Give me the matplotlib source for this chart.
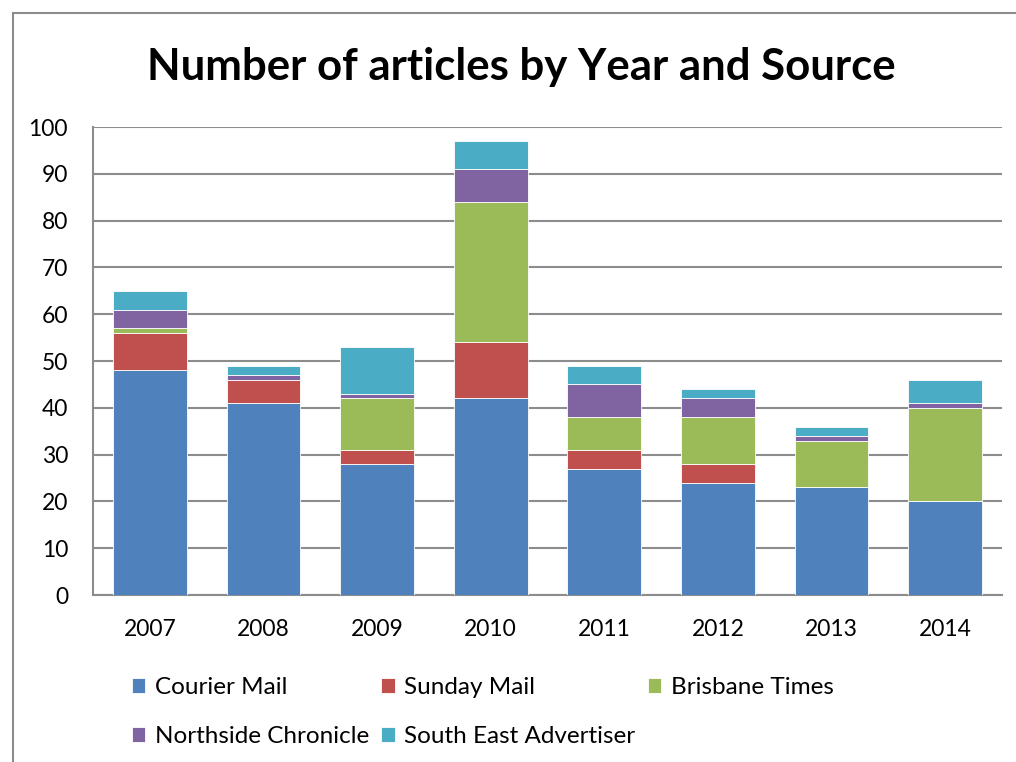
import numpy as np
import matplotlib.pyplot as plt
from matplotlib.lines import Line2D

years = ["2007", "2008", "2009", "2010", "2011", "2012", "2013", "2014"]
courier_mail = [48, 41, 28, 42, 27, 24, 23, 20]
sunday_mail = [8, 5, 3, 12, 4, 4, 0, 0]
brisbane_times = [1, 0, 11, 30, 7, 10, 10, 20]
northside_chronicle = [4, 1, 1, 7, 7, 4, 1, 1]
south_east_advertiser = [4, 2, 10, 6, 4, 2, 2, 5]

series = [
    ("Courier Mail", courier_mail, "#4f81bd"),
    ("Sunday Mail", sunday_mail, "#c0504d"),
    ("Brisbane Times", brisbane_times, "#9bbb59"),
    ("Northside Chronicle", northside_chronicle, "#8064a2"),
    ("South East Advertiser", south_east_advertiser, "#4bacc6"),
]

plt.rcParams["font.family"] = ["Lato", "DejaVu Sans"]

fig = plt.figure(figsize=(10.16, 7.62), dpi=100)
W, H = 1016, 762
ax = fig.add_axes([93 / W, 1 - 595 / H, (1002 - 93) / W, (595 - 127) / H])

x = np.arange(len(years))
bottom = np.zeros(len(years))
for name, vals, col in series:
    ax.bar(x, vals, width=0.65, bottom=bottom, color=col, label=name,
           edgecolor="white", linewidth=0.6, zorder=3)
    bottom += np.array(vals)

ax.set_xlim(-0.5, len(years) - 0.5)
ax.set_ylim(0, 100)
ax.set_yticks(range(0, 101, 10))
ax.set_xticks(x)
ax.set_xticklabels(years)
ax.tick_params(axis="both", labelsize=16.5, length=0, colors="black")
ax.tick_params(axis="x", pad=17)
ax.tick_params(axis="y", pad=18)
ax.grid(axis="y", color="#8c8c8c", linewidth=1.5, zorder=0)
for s in ["top", "right"]:
    ax.spines[s].set_visible(False)
ax.spines["left"].set_color("#8c8c8c")
ax.spines["bottom"].set_color("#8c8c8c")
ax.spines["left"].set_linewidth(1.5)
ax.spines["bottom"].set_linewidth(1.5)

fig.text(0.513, 1 - 67 / H, "Number of articles by Year and Source",
         ha="center", va="center", fontsize=31.5, fontweight="bold")

# legend reads row by row in the reference, matplotlib fills columns first
handles, labels = ax.get_legend_handles_labels()
order = [0, 3, 1, 4, 2]
fig.legend([handles[i] for i in order], [labels[i] for i in order],
           ncol=3, loc="upper left",
           bbox_to_anchor=(110 / W, 1 - 655 / H), frameon=False,
           fontsize=17.5, handlelength=0.55, handleheight=0.55,
           handletextpad=0.4, columnspacing=0.5, labelspacing=1.15)

# outer chart frame (partially visible)
fig.add_artist(Line2D([13 / W, 13 / W], [0, 1 - 13 / H], color="#8c8c8c",
                      linewidth=1.5, transform=fig.transFigure))
fig.add_artist(Line2D([13 / W, 1], [1 - 13 / H, 1 - 13 / H], color="#8c8c8c",
                      linewidth=1.5, transform=fig.transFigure))

fig.savefig("out.png", dpi=100)
